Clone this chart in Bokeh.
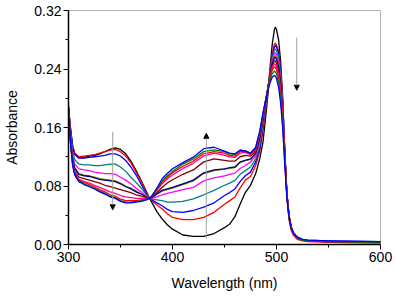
from bokeh.plotting import figure
from bokeh.models import FixedTicker, PrintfTickFormatter, Arrow, NormalHead, Range1d
from bokeh.embed import file_html
from bokeh.resources import INLINE

wavelength = [300, 301, 302, 304, 306, 310, 315, 320, 325, 330, 335, 340, 345, 350, 355,
              360, 365, 370, 375, 378, 380, 385, 390, 395, 400, 410, 420, 430, 440, 450,
              455, 460, 465, 470, 475, 480, 484, 487, 490, 492, 494, 496, 498, 499, 500,
              502, 504, 506, 508, 510, 512, 514, 516, 520, 525, 530, 550, 600]

abs_black = [0.188, 0.172, 0.158, 0.134, 0.124, 0.119, 0.119, 0.121, 0.122, 0.124,
             0.127, 0.130, 0.132, 0.130, 0.124, 0.114, 0.101, 0.087, 0.072, 0.063,
             0.058, 0.045, 0.035, 0.027, 0.021, 0.013, 0.011, 0.011, 0.015, 0.023,
             0.028, 0.038, 0.055, 0.071, 0.081, 0.097, 0.118, 0.140, 0.180, 0.209,
             0.245, 0.275, 0.294, 0.297, 0.294, 0.280, 0.250, 0.200, 0.125, 0.065,
             0.036, 0.022, 0.015, 0.009, 0.006, 0.005, 0.004, 0.003]
abs_red = [0.189, 0.173, 0.158, 0.135, 0.125, 0.120, 0.121, 0.122, 0.123, 0.125,
           0.127, 0.129, 0.130, 0.127, 0.121, 0.112, 0.099, 0.086, 0.071, 0.063,
           0.060, 0.054, 0.049, 0.042, 0.037, 0.034, 0.034, 0.037, 0.044, 0.055,
           0.060, 0.065, 0.077, 0.088, 0.093, 0.108, 0.128, 0.155, 0.190, 0.213,
           0.240, 0.262, 0.274, 0.275, 0.273, 0.265, 0.240, 0.195, 0.125, 0.065,
           0.034, 0.020, 0.013, 0.007, 0.005, 0.004, 0.003, 0.002]
abs_blue = [0.188, 0.172, 0.157, 0.133, 0.123, 0.118, 0.118, 0.119, 0.120, 0.121,
            0.122, 0.124, 0.124, 0.121, 0.115, 0.106, 0.095, 0.082, 0.069, 0.063,
            0.061, 0.057, 0.053, 0.048, 0.045, 0.044, 0.0465, 0.051, 0.057, 0.067,
            0.071, 0.076, 0.086, 0.094, 0.099, 0.113, 0.132, 0.160, 0.193, 0.215,
            0.238, 0.258, 0.270, 0.272, 0.270, 0.262, 0.237, 0.193, 0.127, 0.070,
            0.040, 0.025, 0.017, 0.010, 0.007, 0.006, 0.005, 0.004]
abs_teal = [0.187, 0.168, 0.152, 0.127, 0.116, 0.110, 0.109, 0.109, 0.108, 0.108,
            0.109, 0.110, 0.110, 0.106, 0.100, 0.092, 0.085, 0.077, 0.068, 0.063,
            0.062, 0.061, 0.060, 0.058, 0.058, 0.059, 0.0625, 0.068, 0.074, 0.081,
            0.084, 0.0876, 0.096, 0.101, 0.106, 0.117, 0.137, 0.163, 0.195, 0.216,
            0.237, 0.255, 0.266, 0.267, 0.265, 0.256, 0.232, 0.190, 0.126, 0.070,
            0.040, 0.024, 0.016, 0.009, 0.006, 0.005, 0.004, 0.003]
abs_magenta = [0.187, 0.166, 0.148, 0.122, 0.110, 0.1035, 0.102, 0.101, 0.099, 0.098,
               0.097, 0.097, 0.096, 0.092, 0.088, 0.083, 0.077, 0.072, 0.066, 0.063,
               0.063, 0.065, 0.068, 0.070, 0.0716, 0.075, 0.078, 0.087, 0.091, 0.094,
               0.096, 0.0976, 0.104, 0.108, 0.1126, 0.121, 0.141, 0.166, 0.197, 0.217,
               0.236, 0.252, 0.261, 0.262, 0.259, 0.250, 0.227, 0.186, 0.125, 0.070,
               0.040, 0.024, 0.016, 0.009, 0.006, 0.005, 0.004, 0.003]
abs_olive = [0.186, 0.164, 0.145, 0.118, 0.105, 0.097, 0.095, 0.094, 0.092, 0.090,
             0.089, 0.088, 0.087, 0.084, 0.080, 0.077, 0.073, 0.069, 0.065, 0.063,
             0.064, 0.069, 0.073, 0.075, 0.077, 0.082, 0.087, 0.097, 0.101, 0.103,
             0.104, 0.105, 0.112, 0.115, 0.116, 0.124, 0.145, 0.169, 0.198, 0.217,
             0.235, 0.250, 0.257, 0.258, 0.255, 0.246, 0.223, 0.183, 0.124, 0.070,
             0.040, 0.024, 0.016, 0.009, 0.006, 0.005, 0.004, 0.003]
abs_navy = [0.186, 0.163, 0.144, 0.117, 0.104, 0.096, 0.094, 0.093, 0.091, 0.089,
            0.088, 0.087, 0.086, 0.083, 0.079, 0.076, 0.072, 0.069, 0.065, 0.063,
            0.064, 0.069, 0.074, 0.076, 0.078, 0.083, 0.088, 0.098, 0.102, 0.1035,
            0.105, 0.106, 0.113, 0.115, 0.117, 0.125, 0.146, 0.170, 0.199, 0.217,
            0.234, 0.248, 0.255, 0.256, 0.253, 0.244, 0.221, 0.181, 0.123, 0.070,
            0.040, 0.024, 0.016, 0.009, 0.006, 0.005, 0.004, 0.003]
abs_wine = [0.186, 0.162, 0.142, 0.113, 0.100, 0.092, 0.090, 0.088, 0.086, 0.084,
            0.081, 0.079, 0.077, 0.075, 0.073, 0.071, 0.068, 0.066, 0.064, 0.063,
            0.065, 0.071, 0.078, 0.084, 0.0885, 0.096, 0.102, 0.113, 0.117, 0.115,
            0.114, 0.114, 0.120, 0.122, 0.121, 0.127, 0.149, 0.173, 0.200, 0.217,
            0.233, 0.245, 0.251, 0.251, 0.248, 0.238, 0.215, 0.177, 0.121, 0.069,
            0.040, 0.024, 0.016, 0.009, 0.006, 0.005, 0.004, 0.003]
abs_pink = [0.186, 0.161, 0.140, 0.111, 0.098, 0.089, 0.086, 0.084, 0.081, 0.078,
            0.075, 0.072, 0.070, 0.067, 0.065, 0.064, 0.063, 0.063, 0.063, 0.063,
            0.066, 0.074, 0.083, 0.090, 0.095, 0.104, 0.111, 0.121, 0.125, 0.122,
            0.120, 0.119, 0.125, 0.126, 0.123, 0.129, 0.151, 0.175, 0.201, 0.216,
            0.231, 0.242, 0.247, 0.246, 0.243, 0.233, 0.211, 0.173, 0.119, 0.068,
            0.039, 0.024, 0.016, 0.009, 0.006, 0.005, 0.004, 0.003]
abs_red2 = [0.186, 0.160, 0.139, 0.110, 0.097, 0.088, 0.085, 0.082, 0.079, 0.075,
            0.072, 0.068, 0.066, 0.062, 0.060, 0.060, 0.060, 0.061, 0.062, 0.063,
            0.066, 0.075, 0.085, 0.092, 0.098, 0.107, 0.114, 0.124, 0.127, 0.125,
            0.122, 0.121, 0.127, 0.127, 0.124, 0.130, 0.152, 0.177, 0.201, 0.215,
            0.229, 0.239, 0.243, 0.242, 0.239, 0.229, 0.206, 0.169, 0.116, 0.067,
            0.039, 0.024, 0.016, 0.009, 0.006, 0.005, 0.004, 0.003]
abs_green = [0.186, 0.159, 0.138, 0.109, 0.096, 0.087, 0.083, 0.080, 0.077, 0.073,
             0.070, 0.066, 0.064, 0.060, 0.058, 0.058, 0.059, 0.060, 0.062, 0.063,
             0.066, 0.076, 0.087, 0.094, 0.100, 0.110, 0.117, 0.127, 0.1295, 0.127,
             0.124, 0.123, 0.129, 0.128, 0.125, 0.132, 0.154, 0.179, 0.201, 0.214,
             0.226, 0.234, 0.237, 0.236, 0.233, 0.222, 0.200, 0.163, 0.112, 0.066,
             0.039, 0.024, 0.016, 0.009, 0.006, 0.005, 0.004, 0.003]
abs_blue2 = [0.188, 0.160, 0.138, 0.108, 0.095, 0.086, 0.082, 0.079, 0.076, 0.072,
             0.069, 0.065, 0.063, 0.059, 0.057, 0.057, 0.058, 0.059, 0.061, 0.063,
             0.066, 0.077, 0.090, 0.097, 0.1035, 0.112, 0.1194, 0.131, 0.133, 0.1277,
             0.125, 0.124, 0.129, 0.128, 0.125, 0.133, 0.156, 0.180, 0.200, 0.212,
             0.222, 0.229, 0.231, 0.230, 0.227, 0.215, 0.193, 0.158, 0.108, 0.064,
             0.038, 0.024, 0.016, 0.010, 0.007, 0.006, 0.005, 0.004]

series = [abs_black, abs_red, abs_blue, abs_teal, abs_magenta, abs_olive, abs_navy,
          abs_wine, abs_pink, abs_red2, abs_green, abs_blue2]
colors = ["#000000", "#ff0000", "#0000ff", "#008080", "#ff00ff", "#808000", "#000080",
          "#800000", "#ff0099", "#ff0000", "#008000", "#0000ff"]

x_ticks = [300, 400, 500, 600]
x_minor = [350, 450, 550]
y_ticks = [0.0, 0.08, 0.16, 0.24, 0.32]
y_minor = [0.04, 0.12, 0.20, 0.28]

arrow_x = [342.5, 432.5, 519.5]
arrow_y_start = [0.154, 0.008, 0.283]
arrow_y_end = [0.0475, 0.152, 0.211]

FONT = "Liberation Sans"

p = figure(width=397, height=298, output_backend="svg", toolbar_location=None,
           x_range=Range1d(300, 600), y_range=Range1d(0, 0.32),
           min_border_left=68, min_border_right=17, min_border_top=10, min_border_bottom=54,
           x_axis_label="Wavelength (nm)", y_axis_label="Absorbance")
p.background_fill_color = "white"
p.border_fill_color = "white"
p.outline_line_color = "#b0b0b0"
p.outline_line_width = 1
p.xgrid.visible = False
p.ygrid.visible = False

for ys, c in zip(series, colors):
    p.line(wavelength, ys, line_color=c, line_width=1.3, line_join="round")

for xa, ys0, ys1 in zip(arrow_x, arrow_y_start, arrow_y_end):
    p.add_layout(Arrow(end=NormalHead(size=5, fill_color="black", line_color="black", line_width=1),
                       x_start=xa, y_start=ys0, x_end=xa, y_end=ys1,
                       line_color="#a0a0a0", line_width=1))

p.xaxis.ticker = FixedTicker(ticks=x_ticks, minor_ticks=x_minor)
p.yaxis.ticker = FixedTicker(ticks=y_ticks, minor_ticks=y_minor)
p.yaxis.formatter = PrintfTickFormatter(format="%.2f")

for ax in (p.xaxis, p.yaxis):
    ax.axis_line_color = "black"
    ax.axis_line_width = 1.5
    ax.major_tick_line_color = "black"
    ax.minor_tick_line_color = "black"
    ax.major_tick_out = 5
    ax.major_tick_in = 0
    ax.minor_tick_out = 3
    ax.minor_tick_in = 0
    ax.major_label_text_font = FONT
    ax.major_label_text_font_size = "14px"
    ax.major_label_text_color = "black"
    ax.axis_label_text_font = FONT
    ax.axis_label_text_font_size = "14px"
    ax.axis_label_text_font_style = "normal"
    ax.axis_label_text_color = "black"
    ax.major_label_standoff = 2

p.xaxis.axis_label_standoff = 10
p.yaxis.axis_label_standoff = 11

open("out.html", "w").write(file_html(p, INLINE))
